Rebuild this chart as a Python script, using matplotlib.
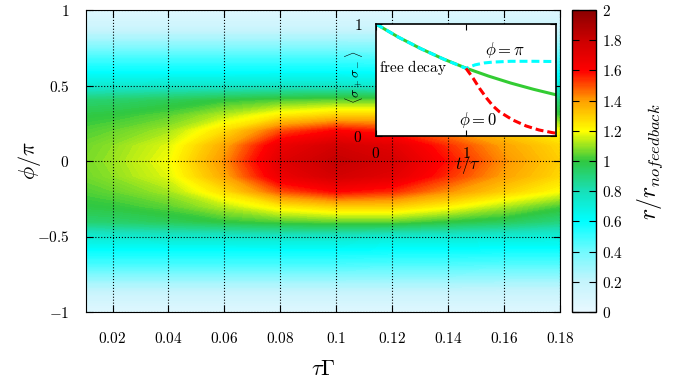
import numpy as np
import matplotlib
matplotlib.use("Agg")
import matplotlib.pyplot as plt
from matplotlib.colors import LinearSegmentedColormap, Normalize

plt.rcParams['mathtext.fontset'] = 'cm'
plt.rcParams['font.family'] = 'serif'
plt.rcParams['font.serif'] = ['DejaVu Serif']

# heat map: r / r_nofeedback over (tau*Gamma, phi/pi), read for phi >= 0 (map is symmetric)
tau_gamma = [0.01, 0.02, 0.04, 0.06, 0.08, 0.10, 0.12, 0.14, 0.16, 0.18]
phi_half = [0.0, 0.1, 0.2, 0.3, 0.4, 0.5, 0.6, 0.7, 0.8, 0.9, 1.0]
ratio_half = [
    [1.07, 1.10, 1.19, 1.42, 1.72, 1.82, 1.76, 1.58, 1.42, 1.30],
    [1.06, 1.09, 1.17, 1.38, 1.67, 1.77, 1.71, 1.54, 1.39, 1.28],
    [1.03, 1.05, 1.11, 1.27, 1.50, 1.60, 1.55, 1.42, 1.30, 1.20],
    [0.99, 1.00, 1.04, 1.13, 1.24, 1.30, 1.30, 1.22, 1.12, 1.02],
    [0.92, 0.93, 0.96, 1.00, 1.03, 1.05, 1.05, 1.00, 0.96, 0.90],
    [0.72, 0.73, 0.74, 0.74, 0.75, 0.75, 0.72, 0.72, 0.71, 0.70],
    [0.58, 0.58, 0.58, 0.58, 0.58, 0.58, 0.57, 0.57, 0.56, 0.56],
    [0.45, 0.45, 0.45, 0.45, 0.45, 0.45, 0.44, 0.44, 0.43, 0.43],
    [0.28, 0.28, 0.28, 0.28, 0.28, 0.28, 0.28, 0.28, 0.27, 0.27],
    [0.14, 0.14, 0.14, 0.14, 0.14, 0.14, 0.14, 0.14, 0.14, 0.14],
    [0.06, 0.06, 0.06, 0.06, 0.06, 0.06, 0.06, 0.06, 0.06, 0.06],
]

# inset curves <sigma+ sigma->(t/tau)
t_free = [0.0, 0.25, 0.5, 0.75, 1.0, 1.25, 1.5, 1.75, 2.0]
free_decay = [1.0, 0.882, 0.779, 0.687, 0.606, 0.535, 0.472, 0.417, 0.368]
t_pi = [0.0, 0.25, 0.5, 0.75, 1.0, 1.1, 1.2, 1.3, 1.5, 1.75, 2.0]
phase_pi = [1.0, 0.882, 0.779, 0.687, 0.604, 0.635, 0.652, 0.660, 0.667, 0.667, 0.665]
t_zero = [1.0, 1.08, 1.15, 1.23, 1.30, 1.37, 1.52, 1.67, 1.81, 1.96, 2.0]
phase_zero = [0.604, 0.515, 0.426, 0.337, 0.268, 0.217, 0.143, 0.089, 0.054, 0.030, 0.025]

cb_ticks = [0, 0.2, 0.4, 0.6, 0.8, 1, 1.2, 1.4, 1.6, 1.8, 2]
x_ticks = [0.02, 0.04, 0.06, 0.08, 0.1, 0.12, 0.14, 0.16, 0.18]
y_ticks = [-1, -0.5, 0, 0.5, 1]

phi = np.concatenate([-np.array(phi_half[:0:-1]), phi_half])
ratio = np.array(ratio_half)
ratio = np.vstack([ratio[:0:-1], ratio])

cmap = LinearSegmentedColormap.from_list("gp", [
    (0.0, '#e8f8ff'), (0.1, '#c4f4fc'), (0.2, '#70fafe'), (0.3, '#00ffff'),
    (0.4, '#18e0b8'), (0.5, '#30c840'), (0.6, '#ffff00'), (0.7, '#ffa000'),
    (0.8, '#ff0000'), (0.9, '#cc0000'), (1.0, '#8b0000')])

fig = plt.figure(figsize=(6.89, 3.86), dpi=100)
ax = fig.add_axes([86/689, 74/386, 474/689, 302/386])
cax = fig.add_axes([572/689, 74/386, 24/689, 302/386])

ax.contourf(tau_gamma, phi, ratio, levels=np.linspace(0, 2, 201), cmap=cmap,
            vmin=0, vmax=2, antialiased=False)
ax.set_xlim(0.0105, 0.18)
ax.set_ylim(-1, 1)
ax.set_xticks(x_ticks)
ax.set_xticklabels([f'${v:g}$' for v in x_ticks])
ax.set_yticks(y_ticks)
ax.set_yticklabels([f'${v:g}$' for v in y_ticks])
ax.tick_params(direction='in', top=True, right=True, length=5, labelsize=11)
ax.tick_params(axis='x', pad=14)
ax.tick_params(axis='y', pad=12)
ax.grid(True, color='black', linestyle=':', linewidth=0.8)
ax.set_axisbelow(False)
ax.set_xlabel(r'$\tau\Gamma$', fontsize=16)
ax.xaxis.set_label_coords(0.5, -0.19)
ax.xaxis.label.set_va('center')
ax.set_ylabel(r'$\phi/\pi$', fontsize=16)
ax.yaxis.set_label_coords(-0.12, 0.5)
ax.yaxis.label.set_va('center')

sm = plt.cm.ScalarMappable(norm=Normalize(0, 2), cmap=cmap)
cb = fig.colorbar(sm, cax=cax, ticks=cb_ticks)
cb.set_ticklabels([f'${v:g}$' for v in cb_ticks])
cax.tick_params(direction='in', left=True, right=True, length=5, labelsize=11, pad=4)
cb.outline.set_linewidth(1)
fig.text(650/689, 0.58, r'$r/r_{nofeedback}$', rotation=90, fontsize=17,
         ha='center', va='center')

ins = fig.add_axes([376/689, 250/386, 180/689, 112/386])
ins.set_facecolor('white')
ins.plot(t_free, free_decay, color='#33cc33', lw=2.2)
ins.plot(t_pi, phase_pi, color='#00ffff', lw=2.2, ls='--', dashes=(2.6, 1.3))
ins.plot(t_zero, phase_zero, color='#ff0000', lw=2.2, ls='--', dashes=(2.6, 1.3))
ins.set_xlim(0, 2)
ins.set_ylim(0, 1)
ins.set_xticks([0, 1])
ins.set_xticklabels(['$0$', '$1$'])
ins.set_yticks([0, 1])
ins.set_yticklabels(['$0$', '$1$'])
ins.tick_params(direction='in', top=True, right=True, length=4, labelsize=11)
ins.tick_params(axis='x', pad=7)
ins.tick_params(axis='y', pad=10)
for s in ins.spines.values():
    s.set_linewidth(1.2)
ins.set_xlabel(r'$t/\tau$', fontsize=12)
ins.xaxis.set_label_coords(0.51, -0.26)
ins.xaxis.label.set_va('center')
ins.set_ylabel(r'$\langle\sigma_+\sigma_-\rangle$', fontsize=10)
ins.yaxis.set_label_coords(-0.12, 0.52)
ins.yaxis.label.set_va('center')
ins.text(0.03, 0.61, r'$\mathrm{free\ decay}$', fontsize=11, ha='left', va='center')
ins.text(1.43, 0.77, r'$\phi = \pi$', fontsize=12, ha='center', va='center')
ins.text(1.13, 0.14, r'$\phi = 0$', fontsize=12, ha='center', va='center')

fig.savefig('out.png', dpi=100)
